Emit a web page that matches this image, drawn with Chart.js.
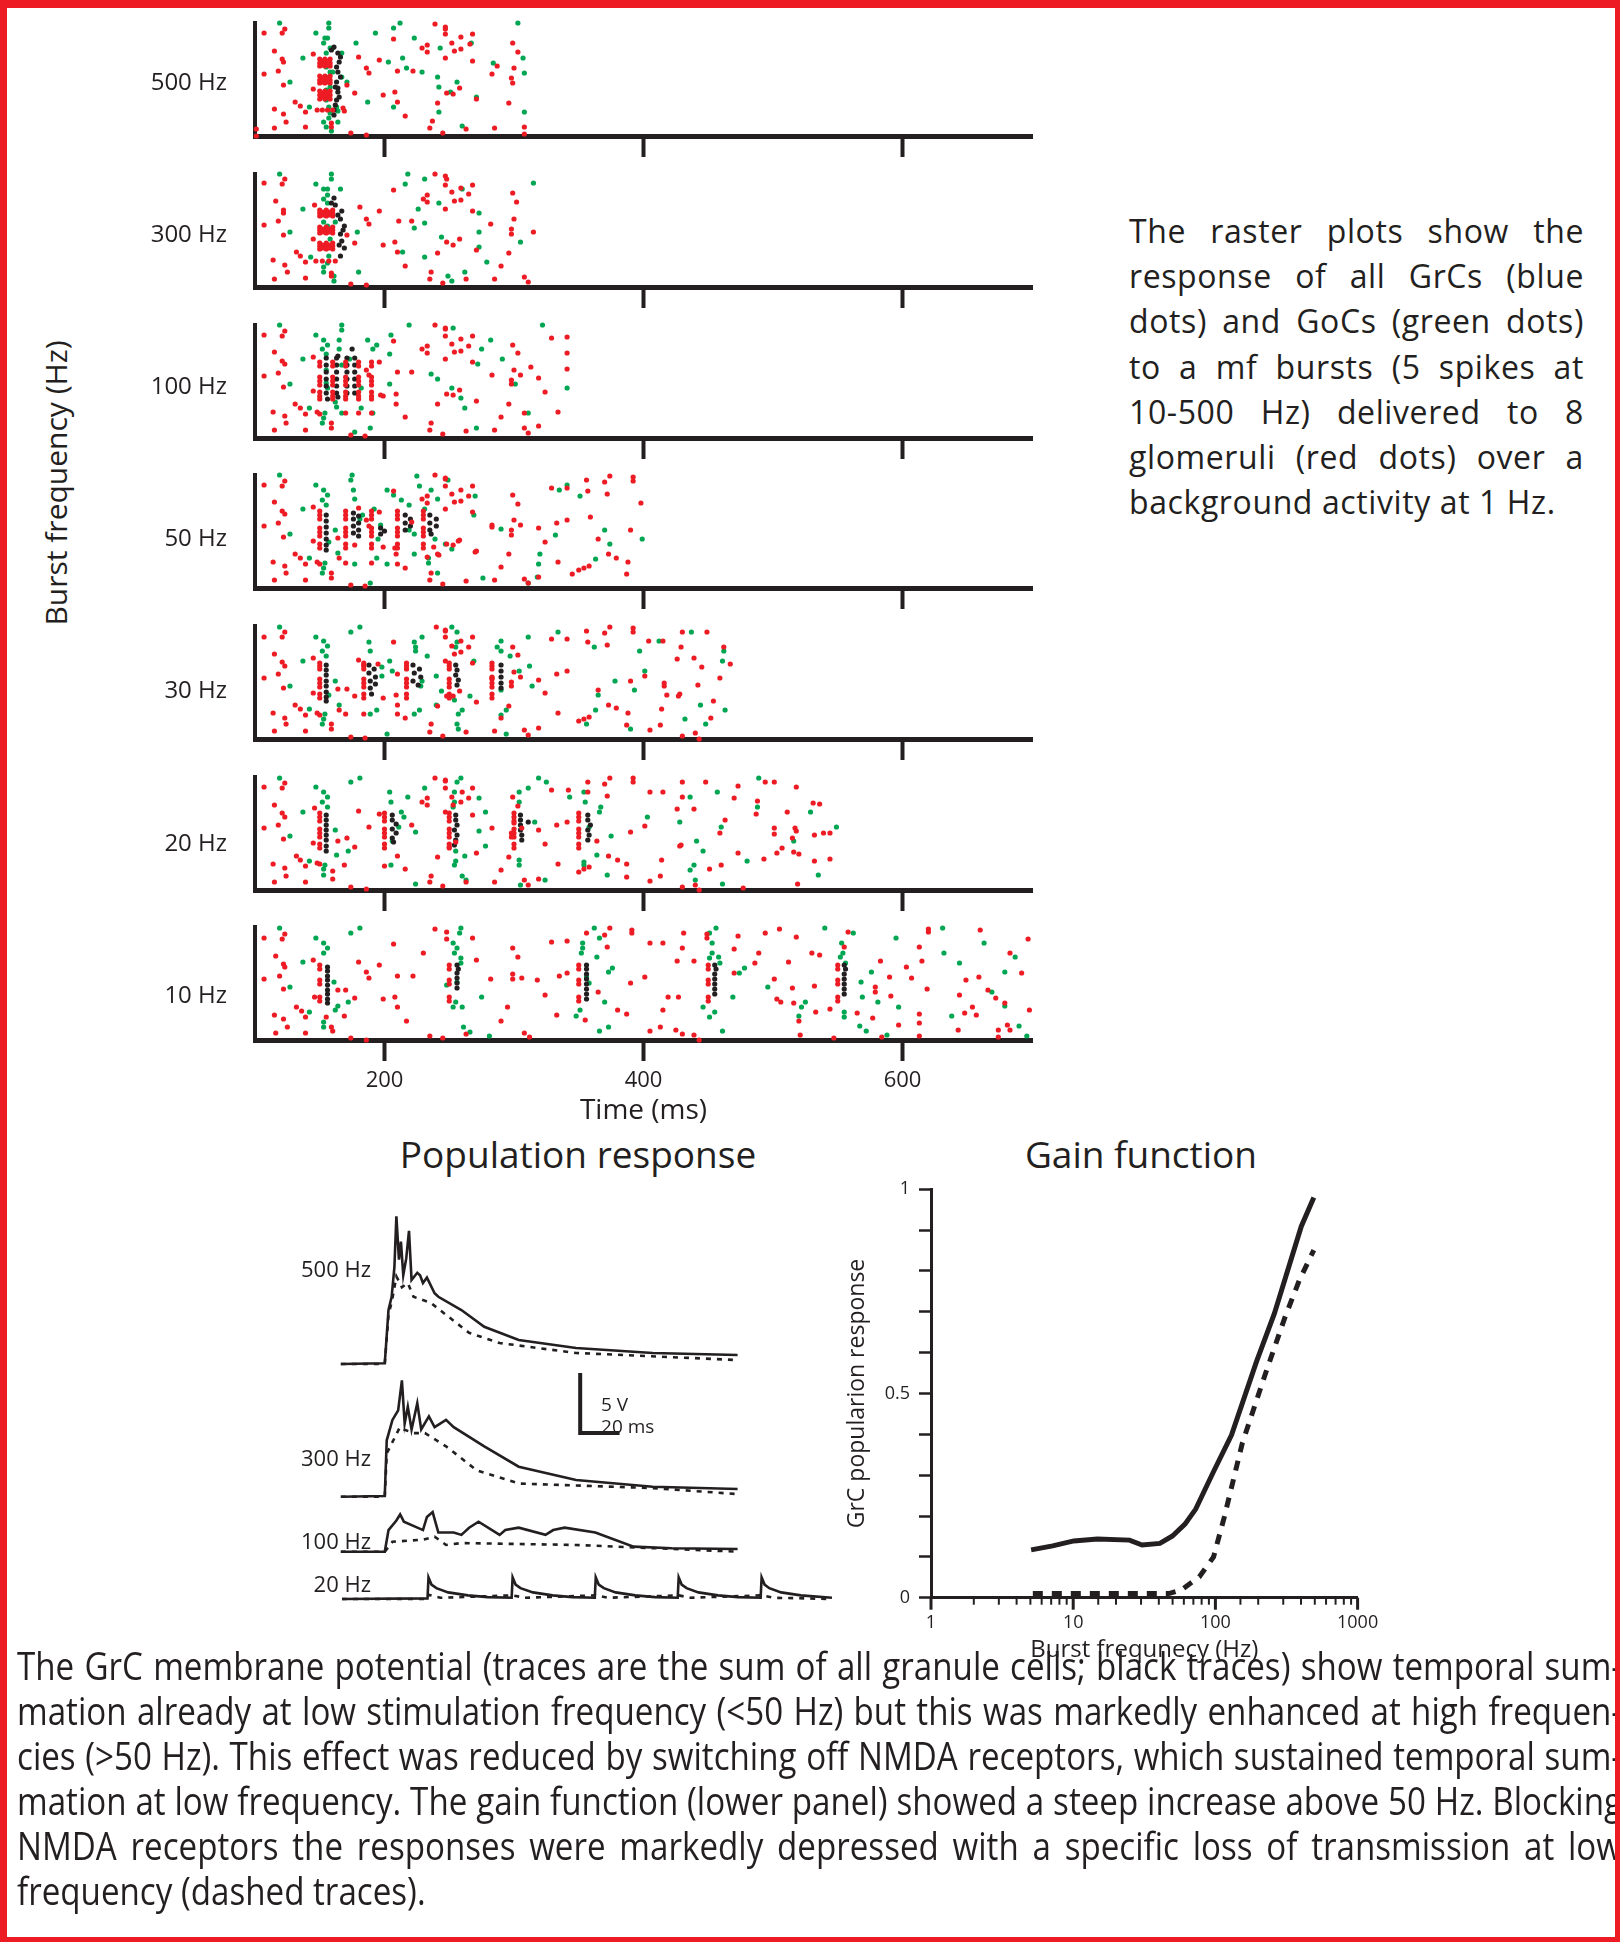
<!DOCTYPE html>
<html>
<head>
<meta charset="utf-8">
<script src="https://cdn.jsdelivr.net/npm/chart.js@4.4.1/dist/chart.umd.min.js"></script>
<style>
  html, body { margin: 0; padding: 0; background: #fff; }
  body { width: 1620px; height: 1942px; position: relative; overflow: hidden;
         font-family: "Open Sans", sans-serif; color: #231f20; }
  canvas { position: absolute; }
  .frame { position: absolute; background: #ed1c24; z-index: 5; }
  .centered { position: absolute; transform: translate(-50%, -50%); white-space: nowrap; line-height: 1; }
  #note { position: absolute; left: 1129px; top: 208px; width: 455px; font-size: 32px; line-height: 45.2px; letter-spacing: 0.6px; }
  #note div, #para div { text-align: justify; text-align-last: justify; }
  #note div.last, #para div.last { text-align-last: left; }
  #para { position: absolute; left: 17px; top: 1643px; font-size: 38px; line-height: 45px; transform-origin: 0 0; }
</style>
</head>
<body>
<div class="centered" style="left:56px; top:483px; font-size:30px; transform: translate(-50%,-50%) rotate(-90deg);">Burst frequency (Hz)</div>
<div class="centered" style="left:578px; top:1153px; font-size:37px;">Population response</div>
<div class="centered" style="left:1141px; top:1153px; font-size:37px;">Gain function</div>
<div id="note"></div>
<div id="para"></div>
<div class="frame" style="left:0; top:0; width:1620px; height:8px;"></div>
<div class="frame" style="left:0; top:0; width:7px; height:1942px;"></div>
<div class="frame" style="left:1615px; top:0; width:5px; height:1942px;"></div>
<div class="frame" style="left:0; top:1937px; width:1620px; height:5px;"></div>
<script>
// raster plots: [time ms, cell index]
const red500 = [[107,103],[101,7],[101,0],[115,85],[121,77],[122,74],[118,65],[107,62],[122,51],[121,103],[123,107],[115,27],[122,22],[124,14],[115,8],[131,34],[135,30],[139,24],[139,9],[145,47],[145,82],[159,13],[159,9],[168,28],[169,25],[171,51],[177,43],[174,3],[186,1],[180,79],[186,68],[188,63],[196,76],[199,41],[208,44],[210,34],[210,65],[216,20],[222,65],[207,97],[229,88],[233,91],[233,84],[239,112],[247,109],[247,107],[247,102],[252,93],[254,85],[259,87],[259,99],[268,102],[266,92],[268,75],[247,78],[271,37],[258,48],[253,42],[248,43],[241,33],[237,15],[235,8],[245,3],[263,7],[285,8],[283,62],[287,70],[298,58],[299,53],[300,68],[303,84],[299,93],[296,33],[308,9],[308,2],
  [150,77],[154,77],[158,77],[150,73],[154,73],[158,73],[150,70],[154,70],[158,70],[152,75],[156,75],[152,71],[156,71],
  [150,60],[154,60],[158,60],[150,56],[154,56],[158,56],[150,53],[154,53],[158,53],[152,58],[156,58],[152,54],[156,54],
  [150,45],[154,45],[158,45],[150,41],[154,41],[158,41],[150,37],[154,37],[158,37],[152,43],[156,43],[152,39],[156,39],
  [148,26],[152,26],[156,26],[160,26]];
const green500 = [[119,113],[157,113],[157,108],[147,103],[154,98],[156,98],[153,93],[158,88],[160,88],[167,83],[137,78],[127,54],[158,64],[158,49],[160,64],[167,59],[171,54],[142,29],[157,29],[163,29],[164,25],[153,14],[164,14],[159,5],[178,93],[193,103],[207,108],[212,113],[223,98],[214,78],[203,74],[217,68],[229,64],[241,59],[242,49],[256,54],[251,44],[187,34],[207,29],[242,24],[260,10],[271,39],[284,73],[307,78],[308,63],[308,24],[303,113],[267,93],[243,88],[155,83],[155,69],[155,36],[158,23],[157,18],[155,9],[155,59],[155,46]];
const black500 = [[161,89],[164,83],[165,74],[163,69],[164,64],[166,59],[163,54],[162,49],[164,44],[165,39],[163,36],[162,31],[161,26],[161,21],[159,86],[166,79],[164,48]];

const red300 = [[107,104],[121,103],[123,108],[116,86],[122,77],[122,74],[118,66],[107,62],[122,52],[114,27],[123,22],[125,15],[115,8],[132,35],[135,31],[139,25],[139,9],[145,48],[146,82],[159,14],[159,11],[171,52],[177,44],[181,80],[186,68],[188,63],[174,3],[186,2],[196,76],[199,42],[208,45],[210,35],[211,66],[216,21],[221,66],[207,97],[230,88],[233,92],[233,85],[239,113],[247,111],[248,108],[247,102],[252,95],[254,86],[259,87],[259,99],[268,102],[265,93],[268,76],[247,78],[271,37],[258,48],[253,42],[248,45],[241,34],[236,15],[235,8],[245,4],[263,8],[285,8],[282,63],[296,34],[290,21],[299,94],[302,85],[300,68],[298,58],[298,53],[315,55],[308,10],[311,5],
  [150,77],[155,77],[160,77],[150,74],[155,74],[160,74],[150,71],[155,71],[160,71],[152,75],[157,75],[152,72],[157,72],
  [150,60],[155,60],[160,60],[150,57],[155,57],[160,57],[150,54],[155,54],[160,54],[152,58],[157,58],[152,55],[157,55],
  [150,44],[155,44],[160,44],[150,41],[155,41],[160,41],[150,38],[155,38],[160,38],[152,42],[157,42],[152,39],[157,39],
  [147,26],[152,26],[157,26],[162,26]];
const green300 = [[119,113],[159,113],[159,108],[147,103],[153,98],[156,98],[166,98],[153,88],[156,92],[137,78],[127,55],[153,65],[162,65],[179,55],[143,30],[153,20],[153,15],[161,11],[161,6],[180,15],[218,113],[216,103],[231,108],[242,84],[226,78],[231,64],[223,59],[244,50],[214,35],[231,30],[249,11],[252,6],[262,15],[260,98],[273,74],[273,55],[273,40],[279,25],[305,45],[315,104],[156,84],[156,61],[158,48],[157,31],[156,24]];
const black300 = [[161,89],[162,82],[167,76],[166,68],[169,61],[166,53],[167,46],[169,39],[166,31],[159,84],[164,72],[168,57],[165,42]];

const red100 = [[107,103],[123,107],[121,102],[115,86],[121,77],[123,74],[118,65],[107,62],[122,51],[114,26],[123,22],[124,15],[115,8],[131,34],[135,30],[139,24],[139,8],[145,81],[145,47],[148,26],[150,24],[159,15],[159,10],[170,25],[180,25],[190,25],[174,3],[185,2],[196,76],[199,42],[207,97],[210,66],[209,44],[209,34],[216,21],[221,66],[229,89],[233,92],[233,85],[239,113],[247,110],[247,109],[247,102],[252,94],[254,86],[259,87],[259,99],[268,102],[265,92],[268,76],[247,79],[271,37],[258,48],[253,43],[248,44],[241,34],[236,15],[235,8],[245,4],[263,7],[285,8],[283,63],[296,34],[290,21],[299,93],[303,85],[300,68],[298,58],[298,54],[308,25],[311,5],[305,63],[313,71],[319,60],[324,46],[329,100],[341,101],[341,85],[341,69],[334,26],[319,12],[308,10],[197,43],[186,68],[188,63],
  [150,76],[150,72],[150,61],[150,57],[150,53],[150,46],[150,42],[150,39],
  [160,76],[160,72],[160,61],[160,57],[160,53],[160,46],[160,42],[160,39],
  [170,76],[170,72],[170,61],[170,57],[170,53],[170,46],[170,42],[170,39],
  [180,76],[180,72],[180,61],[180,57],[180,53],[180,46],[180,42],[180,39],
  [190,76],[190,72],[190,61],[190,57],[190,53],[190,46],[190,42],[190,39]];
const green100 = [[119,113],[167,113],[167,108],[147,103],[153,98],[156,93],[152,89],[155,84],[165,98],[165,89],[137,79],[127,54],[187,98],[194,93],[191,89],[205,103],[204,84],[204,54],[219,113],[236,64],[241,59],[252,50],[259,40],[262,30],[253,110],[272,74],[275,89],[282,98],[291,79],[301,54],[311,25],[322,113],[341,50],[271,10],[189,10],[177,6],[182,30],[191,25],[167,25],[154,25],[153,20],[152,15],[142,30],[162,36],[163,31],[156,50],[173,79],[182,50],[155,68],[155,55],[167,73]];
const black100 = [[175,89],[164,82],[155,80],[163,80],[171,80],[177,80],[155,73],[163,73],[171,73],[177,73],[155,66],[163,66],[171,66],[177,66],[155,59],[163,59],[171,59],[177,59],[155,52],[163,52],[171,52],[177,52],[155,45],[163,45],[171,45],[177,45],[156,39],[164,41]];

const red50 = [[107,103],[123,107],[121,102],[115,86],[121,77],[123,74],[118,65],[107,62],[122,51],[114,26],[123,22],[124,15],[115,8],[131,34],[135,30],[139,24],[139,8],[145,81],[145,47],[148,26],[150,24],[159,15],[159,10],[164,50],[165,30],[170,25],[177,43],[180,80],[186,68],[188,62],[190,25],[196,76],[199,41],[174,3],[185,2],[207,97],[209,34],[216,20],[221,66],[229,89],[233,92],[233,85],[239,113],[247,110],[247,109],[247,102],[252,94],[254,86],[259,87],[259,98],[268,102],[265,92],[268,76],[247,79],[271,37],[258,48],[253,43],[248,44],[241,34],[236,15],[235,8],[245,4],[263,7],[285,8],[283,63],[283,61],[296,34],[290,21],[299,93],[303,84],[300,68],[298,58],[298,53],[305,63],[308,9],[311,5],[319,60],[324,46],[329,100],[334,26],[319,11],[333,65],[341,68],[341,100],[345,14],[350,18],[354,20],[358,22],[356,108],[357,97],[359,71],[365,49],[370,106],[374,112],[372,94],[373,34],[379,30],[388,26],[387,14],[390,58],[392,111],[392,107],[398,85],[208,40],[210,24],[238,41],[242,33],[257,47],[270,36],[233,31],
  [150,77],[150,73],[150,69],[150,60],[150,56],[150,52],[150,44],[150,40],
  [170,77],[170,73],[170,69],[170,60],[170,56],[170,52],[170,44],[170,40],
  [190,77],[190,73],[190,69],[190,60],[190,56],[190,52],[190,44],[190,40],
  [210,77],[210,73],[210,69],[210,60],[210,56],[210,52],[210,44],[210,40],
  [230,77],[230,73],[230,69],[230,60],[230,56],[230,52],[230,44],[230,40]];
const green50 = [[119,113],[175,113],[174,108],[147,103],[153,98],[156,93],[152,88],[155,83],[176,98],[177,89],[137,79],[127,54],[162,58],[183,73],[181,69],[202,98],[207,93],[213,88],[219,83],[225,112],[227,102],[236,98],[241,89],[270,92],[269,73],[249,108],[231,79],[197,63],[195,49],[192,79],[219,58],[223,54],[239,49],[223,34],[234,30],[234,25],[247,44],[252,39],[241,15],[202,24],[194,30],[177,24],[164,35],[154,25],[153,20],[152,15],[142,30],[189,5],[276,10],[290,59],[311,5],[319,24],[320,34],[318,11],[332,53],[335,98],[341,103],[351,92],[363,29],[370,58],[374,44],[399,49],[157,46]];
const black50 = [[155,73],[155,67],[155,61],[155,55],[155,49],[155,43],[155,38],[176,75],[180,72],[176,69],[180,65],[176,62],[180,58],[176,55],[180,52],[197,60],[200,57],[197,54],[216,73],[220,69],[216,65],[220,62],[216,58],[235,73],[240,69],[235,65],[240,62],[235,58],[236,54]];

const red30 = [[107,102],[123,107],[121,102],[115,85],[121,77],[123,73],[118,65],[107,61],[122,51],[114,26],[123,21],[124,15],[115,8],[131,34],[135,30],[139,24],[139,8],[145,81],[145,46],[148,26],[150,24],[159,15],[159,10],[164,50],[165,29],[170,25],[171,50],[177,43],[180,79],[184,74],[184,25],[174,2],[185,1],[195,75],[199,41],[207,97],[210,65],[209,44],[210,34],[216,21],[210,25],[240,112],[247,109],[247,108],[247,102],[252,93],[254,85],[259,87],[259,98],[268,102],[265,92],[268,76],[247,78],[271,37],[258,48],[253,43],[248,43],[241,33],[236,15],[235,7],[245,3],[263,7],[285,8],[283,62],[283,61],[296,33],[290,21],[299,92],[303,84],[300,67],[298,57],[298,53],[305,62],[308,9],[311,4],[319,59],[324,46],[329,100],[334,26],[319,11],[333,65],[341,68],[341,100],[350,18],[354,20],[358,22],[356,108],[357,97],[365,49],[370,106],[374,112],[372,94],[373,34],[379,31],[388,26],[387,14],[390,58],[392,111],[392,107],[401,63],[404,98],[405,9],[413,14],[414,30],[415,98],[416,56],[416,53],[418,44],[426,80],[427,43],[428,45],[429,92],[430,107],[439,81],[442,54],[445,72],[449,107],[452,21],[454,38],[459,61],[462,92],[467,75],[430,3],[440,6],[443,0],
  [150,76],[150,73],[150,70],[150,60],[150,56],[150,52],[150,45],[150,41],
  [184,76],[184,73],[184,70],[184,60],[184,56],[184,52],[184,45],[184,41],
  [217,76],[217,73],[217,70],[217,60],[217,56],[217,52],[217,45],[217,41],
  [250,76],[250,73],[250,70],[250,60],[250,56],[250,52],[250,45],[250,41],
  [283,76],[283,73],[283,70],[283,60],[283,56],[283,52],[283,45],[283,41]];
const green30 = [[119,112],[181,112],[174,107],[147,102],[153,98],[156,93],[152,88],[155,83],[188,97],[189,88],[137,78],[127,53],[162,58],[165,34],[198,72],[198,63],[204,78],[206,68],[223,97],[224,92],[224,88],[229,102],[233,83],[240,63],[229,58],[228,53],[244,48],[252,112],[256,107],[256,97],[255,92],[269,78],[266,43],[254,39],[260,29],[257,25],[256,15],[257,10],[290,98],[287,92],[290,88],[297,83],[304,68],[312,73],[311,102],[314,53],[290,49],[290,24],[294,29],[294,5],[334,107],[362,92],[378,58],[365,44],[363,29],[356,15],[390,10],[397,88],[401,68],[393,49],[412,98],[437,107],[444,34],[432,20],[448,15],[461,78],[462,88],[463,29],[240,34],[227,29],[223,25],[202,5],[189,25],[194,29],[154,25],[153,20],[152,15],[142,30],[157,44]];
const black30 = [[155,74],[155,69],[155,64],[155,58],[155,53],[155,47],[155,42],[155,38],[188,74],[192,70],[188,66],[193,62],[189,58],[193,55],[189,51],[190,45],[222,74],[227,70],[223,66],[228,62],[222,58],[226,54],[255,74],[256,69],[255,64],[257,59],[256,54],[290,74],[290,68],[290,62],[290,56],[290,51]];

const red20 = [[107,103],[123,107],[121,102],[115,85],[121,77],[123,73],[118,65],[107,62],[122,51],[114,26],[123,22],[124,14],[115,8],[132,34],[135,30],[139,24],[139,8],[146,82],[145,47],[148,27],[150,26],[160,19],[160,11],[164,49],[169,25],[171,52],[177,43],[180,79],[188,63],[174,3],[186,1],[196,76],[200,24],[210,34],[216,21],[221,65],[229,88],[233,92],[233,85],[239,112],[247,110],[247,109],[247,102],[252,93],[253,85],[259,88],[260,98],[268,102],[265,92],[268,75],[247,78],[271,37],[255,48],[250,43],[241,33],[236,14],[235,8],[245,4],[263,8],[285,8],[283,62],[296,33],[290,20],[299,93],[303,84],[300,67],[298,57],[298,53],[306,62],[308,10],[311,5],[319,60],[324,46],[329,100],[334,26],[319,11],[333,65],[341,68],[342,100],[350,18],[354,21],[358,23],[357,108],[357,98],[364,49],[370,106],[374,112],[372,94],[373,34],[380,30],[387,26],[387,13],[390,58],[392,112],[392,108],[401,64],[405,98],[405,9],[413,14],[414,30],[415,98],[428,44],[429,45],[426,81],[430,93],[430,108],[439,81],[448,108],[451,21],[460,25],[463,70],[459,57],[470,92],[473,37],[473,104],[487,76],[488,89],[493,31],[494,108],[501,108],[501,62],[501,56],[503,37],[507,42],[511,78],[518,103],[515,52],[517,62],[518,59],[516,38],[520,36],[519,6],[531,87],[536,86],[532,29],[532,55],[539,57],[544,57],[544,31],[477,2],[440,5],[443,0],[430,3],
  [150,77],[150,73],[150,69],[150,61],[150,57],[150,53],[150,46],[150,42],
  [200,77],[200,73],[200,69],[200,61],[200,57],[200,53],[200,46],[200,42],
  [250,77],[250,73],[250,69],[250,61],[250,57],[250,53],[250,46],[250,42],
  [300,77],[300,73],[300,69],[300,61],[300,57],[300,53],[300,46],[300,42],
  [350,77],[350,73],[350,69],[350,61],[350,57],[350,53],[350,46],[350,42]];
const green20 = [[119,112],[181,112],[174,108],[147,103],[153,98],[156,93],[152,88],[156,83],[204,98],[205,88],[137,78],[127,54],[162,60],[172,39],[218,93],[213,78],[215,73],[231,102],[256,108],[259,112],[254,98],[254,88],[253,83],[273,92],[278,78],[273,59],[278,44],[224,58],[262,34],[255,39],[255,29],[254,25],[260,14],[263,10],[319,112],[325,108],[311,102],[304,98],[304,88],[343,93],[354,98],[355,88],[367,83],[366,78],[316,68],[358,63],[375,54],[364,35],[354,28],[354,25],[372,15],[304,30],[304,25],[305,5],[324,10],[224,6],[403,73],[428,68],[436,93],[441,49],[446,39],[439,25],[436,20],[440,10],[461,6],[457,98],[460,63],[480,29],[489,112],[488,83],[516,49],[529,78],[535,15],[549,63],[154,25],[153,21],[153,15],[142,29],[205,25],[206,49],[211,63],[163,35]];
const black20 = [[155,75],[155,70],[155,65],[155,60],[155,55],[155,50],[155,44],[155,39],[206,75],[206,70],[209,66],[206,61],[209,57],[206,52],[207,48],[255,75],[255,70],[256,65],[254,60],[256,55],[255,50],[254,45],[305,75],[305,70],[311,68],[305,65],[305,60],[306,55],[306,50],[357,75],[357,70],[359,65],[357,60],[358,55],[357,50]];

const red10 = [[107,102],[123,106],[121,101],[116,84],[122,76],[123,73],[107,61],[119,64],[122,51],[115,25],[122,21],[125,13],[116,7],[132,33],[136,29],[139,23],[139,7],[145,80],[146,43],[155,23],[159,13],[160,9],[164,50],[170,50],[177,42],[169,24],[174,2],[186,0],[180,78],[186,68],[188,62],[196,75],[199,41],[207,96],[208,43],[210,33],[210,64],[217,19],[222,64],[230,87],[239,111],[248,108],[248,101],[235,4],[245,2],[263,6],[268,102],[271,80],[282,61],[299,92],[303,83],[299,66],[299,61],[306,62],[295,33],[290,19],[308,7],[312,3],[318,60],[324,45],[329,98],[341,99],[335,64],[333,25],[341,67],[356,107],[370,105],[374,112],[372,93],[365,48],[355,20],[380,30],[387,26],[390,57],[391,110],[391,107],[401,63],[405,97],[415,97],[413,13],[405,9],[425,10],[419,43],[415,30],[427,43],[430,6],[439,5],[443,0],[426,79],[431,107],[430,92],[439,79],[449,106],[449,102],[470,91],[473,104],[470,67],[486,77],[489,87],[494,107],[505,111],[501,61],[503,41],[506,38],[516,37],[518,103],[512,78],[515,52],[520,19],[521,5],[530,87],[536,85],[532,54],[533,28],[544,31],[547,2],[555,93],[558,108],[565,27],[577,22],[579,53],[579,48],[583,79],[584,3],[590,63],[591,44],[597,15],[603,73],[607,62],[613,93],[615,79],[613,26],[613,17],[613,4],[619,51],[620,111],[620,108],[644,45],[643,10],[649,60],[648,27],[657,25],[660,110],[659,63],[672,42],[674,10],[683,87],[681,15],[692,67],[697,101],[698,30],[674,3],[683,10],[654,33],[666,50],[679,37],
  [150,75],[150,71],[150,60],[150,56],[150,43],[150,39],
  [250,75],[250,71],[250,60],[250,56],[250,43],[250,39],
  [350,75],[350,71],[350,60],[350,56],[350,43],[350,39],
  [450,75],[450,71],[450,60],[450,56],[450,43],[450,39],
  [550,75],[550,71],[550,60],[550,56],[550,43],[550,39]];
const green10 = [[119,112],[147,102],[153,97],[156,92],[153,87],[137,78],[127,53],[161,58],[164,34],[172,38],[142,28],[153,18],[153,13],[162,30],[174,107],[181,112],[259,112],[258,107],[253,97],[256,92],[254,87],[259,82],[259,77],[248,55],[256,58],[255,38],[253,33],[260,33],[261,13],[266,8],[281,4],[275,43],[362,112],[366,102],[353,97],[353,92],[352,87],[364,83],[373,68],[376,72],[356,63],[358,57],[370,38],[351,30],[348,24],[373,13],[366,9],[456,112],[451,107],[453,97],[453,87],[451,82],[458,83],[459,77],[446,33],[455,28],[451,23],[461,9],[469,43],[474,67],[478,72],[540,112],[562,107],[553,97],[554,87],[552,83],[556,77],[568,58],[576,68],[569,43],[581,38],[555,28],[555,23],[567,14],[572,9],[597,33],[588,5],[595,102],[631,112],[663,97],[632,87],[644,77],[638,24],[669,48],[679,34],[679,68],[687,83],[690,14],[696,4],[496,53],[522,33],[525,38],[520,24]];
const black10 = [[156,73],[156,69],[156,64],[156,60],[156,55],[156,50],[156,46],[156,41],[156,37],[256,75],[257,71],[256,67],[256,62],[256,57],[256,52],[356,75],[356,71],[356,66],[356,61],[356,56],[356,51],[356,46],[356,41],[455,75],[456,71],[455,66],[455,61],[455,56],[455,51],[455,46],[555,75],[556,71],[555,66],[555,61],[555,56],[555,51],[555,46]];

const burstLabels = ['500 Hz', '300 Hz', '100 Hz', '50 Hz', '30 Hz', '20 Hz', '10 Hz'];
const timeTicks = [200, 400, 600];

// population response traces: [time ms, volts above the trace's own baseline]
const popLabels = ['500 Hz', '300 Hz', '100 Hz', '20 Hz'];
const trace500 = [[5.5,0],[27.8,0.06],[29.7,4.5],[31.3,5.6],[32.7,8.1],[33.7,12.3],[35,8.7],[36,10.2],[37.2,7.4],[38.7,8.8],[40.1,11.1],[41.4,7],[44.3,7.6],[45.7,7.4],[47.2,6.75],[49.2,7.2],[53.1,5.9],[55,5.6],[66.7,4.5],[78.3,3.1],[95.8,2],[124.9,1.33],[163.8,0.92],[206.9,0.75]];
const nmda500 = [[5.5,0],[27.8,0],[29.7,4.1],[31.5,5.3],[33.7,7.3],[36.5,6.4],[39.5,6.75],[42.4,5.6],[51.1,5.1],[70.6,2.6],[86.1,1.75],[124.9,0.92],[206.9,0.33]];
const trace300 = [[5.5,0],[27.8,0.06],[28.8,4.7],[31.7,6.4],[34.6,7.2],[36.5,9.7],[37.9,6.1],[39.5,7.5],[41.4,5.6],[44.3,7.8],[46.3,5.6],[50.2,6.7],[53.1,5.8],[58.9,6.4],[62.8,5.8],[78.3,4.2],[95.8,2.5],[124.9,1.4],[163.8,0.83],[206.9,0.64]];
const nmda300 = [[5.5,0],[27.8,0],[28.8,3.6],[35.5,5.8],[37.6,5.6],[42.4,5.3],[48.2,5.3],[58.9,4.2],[74.5,2.2],[95.8,1.1],[163.8,0.72],[206.9,0.22]];
const trace100 = [[5.5,0],[27.8,0],[29.7,1.8],[33.7,2.6],[35.6,3.1],[37.5,2.5],[47.2,1.8],[49.2,2.9],[52.1,3.3],[55,1.6],[62.8,1.6],[66.7,1.4],[70.6,2],[75.4,2.5],[86.1,1.4],[89,1.8],[95.8,2],[109.4,1.4],[113.3,1.8],[119.1,2],[134.7,1.6],[154.1,0.42],[173.5,0.28],[206.9,0.22]];
const nmda100 = [[5.5,0],[27.8,0],[31.7,0.83],[47.2,1],[53.1,1.25],[58.9,0.56],[66.7,0.72],[124.9,0.56],[206.9,0]];
const trace20 = [[6.1,0],[49.5,0.05],[50,1.8],[51.5,1.2],[54,0.9],[60,0.55],[70,0.3],[80,0.15],[92.2,0.1],[92.7,1.8],[94.2,1.2],[96.7,0.9],[103,0.55],[113,0.3],[123,0.15],[134.4,0.1],[134.9,1.8],[136.4,1.2],[139,0.9],[145,0.55],[155,0.3],[165,0.15],[176.5,0.1],[177,1.8],[178.5,1.2],[181,0.9],[187,0.55],[197,0.3],[207,0.15],[218.6,0.1],[219.1,1.8],[220.6,1.2],[223,0.9],[229,0.55],[239,0.3],[254.8,0.1]];
const nmda20 = [[6.1,0],[49.5,0],[50,0.35],[56,0.1],[92.7,0.3],[99,0.1],[134.9,0.3],[141,0.1],[177,0.3],[183,0.1],[219.1,0.3],[225,0.1],[254.8,0]];

// gain function
const gainFreq = [5.06, 7.17, 10.1, 14.8, 24.9, 30.5, 40.7, 49.9, 61.1, 72.7, 97.1, 129.8, 194.5, 260, 401.6, 492];
const gainCtrl = [0.117, 0.127, 0.139, 0.144, 0.141, 0.129, 0.133, 0.151, 0.18, 0.217, 0.309, 0.398, 0.578, 0.696, 0.909, 0.98];
const nmdaFreq = [5.2, 47, 57.7, 77, 97.1, 115.6, 154.5, 225, 309.5, 390, 492];
const nmdaOff = [0.01, 0.01, 0.019, 0.051, 0.1, 0.198, 0.378, 0.549, 0.688, 0.778, 0.851];

const noteLines = ['The raster plots show the', 'response of all GrCs (blue', 'dots) and GoCs (green dots)', 'to a mf bursts (5 spikes at', '10-500 Hz) delivered to 8', 'glomeruli (red dots) over a', 'background activity at 1 Hz.'];
const paraLines = [
  'The GrC membrane potential (traces are the sum of all granule cells; black traces) show temporal sum-',
  'mation already at low stimulation frequency (<50 Hz) but this was markedly enhanced at high frequen-',
  'cies (>50 Hz). This effect was reduced by switching off NMDA receptors, which sustained temporal sum-',
  'mation at low frequency. The gain function (lower panel) showed a steep increase above 50 Hz. Blocking',
  'NMDA receptors the responses were markedly depressed with a specific loss of transmission at low',
  'frequency (dashed traces).'
];

const ink = '#231f20';
const redDot = '#ed1c24';
const greenDot = '#00a651';
Chart.defaults.font.family = '"Open Sans", sans-serif';
Chart.defaults.color = ink;
Chart.defaults.animation = false;
Chart.defaults.events = [];
Chart.defaults.plugins.legend.display = false;
Chart.defaults.plugins.tooltip.enabled = false;

function addCanvas(left, top, w, h) {
  const c = document.createElement('canvas');
  c.width = w; c.height = h;
  c.style.left = left + 'px'; c.style.top = top + 'px';
  document.body.insertBefore(c, document.getElementById('note'));
  return c;
}

function dots(pts, color, order) {
  return { data: pts.map(p => ({ x: p[0], y: p[1] })), backgroundColor: color, borderWidth: 0,
           pointRadius: 2.6, order: order, clip: false };
}

const rasters = [
  [red500, green500, black500], [red300, green300, black300], [red100, green100, black100],
  [red50, green50, black50], [red30, green30, black30], [red20, green20, black20], [red10, green10, black10]
];
const panelBottoms = [136, 287, 438, 588, 739, 890, 1040];
const labelRow = [53, 52, 50.5, 49, 48, 45.5, 43.5];

rasters.forEach((r, i) => {
  const last = i === rasters.length - 1;
  const axisH = last ? 91 : 30;
  const cv = addCanvas(140, panelBottoms[i] - 123, 910, 123 + axisH);
  new Chart(cv, {
    type: 'scatter',
    data: { datasets: [dots(r[1], greenDot, 2), dots(r[2], ink, 1), dots(r[0], redDot, 0)] },
    options: {
      responsive: false,
      layout: { padding: { left: 0, right: 18, top: 10, bottom: 0 } },
      scales: {
        x: {
          type: 'linear', min: 100, max: 700,
          afterBuildTicks: s => { s.ticks = timeTicks.map(v => ({ value: v })); },
          afterFit: s => { s.height = axisH; s.paddingLeft = 0; s.paddingRight = 0; },
          border: { width: 5, color: ink },
          grid: { drawOnChartArea: false, drawTicks: true, tickLength: 21, tickWidth: 4, tickColor: ink, color: ink },
          ticks: { display: last, padding: 7, maxRotation: 0, font: { size: 22 }, color: ink },
          title: { display: last, text: 'Time (ms)', font: { size: 28 }, color: ink, padding: { top: 0, bottom: 3 } }
        },
        y: {
          min: 0, max: 113,
          afterBuildTicks: s => { s.ticks = [{ value: labelRow[i] }]; },
          // the single label sits mid-height, so no label padding is needed above or below
          afterFit: s => { s.width = 115; s.paddingTop = 0; s.paddingBottom = 0; },
          border: { width: 4, color: ink },
          grid: { display: false, drawTicks: false },
          ticks: { padding: 28, font: { size: 24 }, color: ink, callback: () => burstLabels[i] }
        }
      }
    }
  });
});

// population response
const popBaseline = [20.5, 9.44, 4.86, 0.92];
const popLabelAt = [[20.8, 28.3], [20.8, 12.5], [20.8, 5.6], [20.8, 2.0]];
const scaleBar = [[127, 19.75], [127, 14.75], [147, 14.75]];
const scaleBarText = [['5 V', 137.6, 17.0], ['20 ms', 137.6, 15.2]];

function trace(pts, base, dashed) {
  return { data: pts.map(p => ({ x: p[0], y: p[1] + base })), borderColor: ink, borderWidth: 2.6,
           borderDash: dashed ? [5, 6] : [], pointRadius: 0, tension: 0, fill: false, clip: false };
}
const popText = {
  id: 'popText',
  afterDatasetsDraw(chart) {
    const { ctx, scales: { x, y } } = chart;
    ctx.save();
    ctx.fillStyle = ink;
    ctx.textBaseline = 'middle';
    ctx.textAlign = 'right';
    ctx.font = '22px "Open Sans"';
    popLabels.forEach((t, i) => ctx.fillText(t, x.getPixelForValue(popLabelAt[i][0]), y.getPixelForValue(popLabelAt[i][1])));
    ctx.textAlign = 'left';
    ctx.font = '19px "Open Sans"';
    scaleBarText.forEach(b => ctx.fillText(b[0], x.getPixelForValue(b[1]), y.getPixelForValue(b[2])));
    ctx.restore();
  }
};
const traces = [[trace500, nmda500], [trace300, nmda300], [trace100, nmda100], [trace20, nmda20]];
const popSets = [];
traces.forEach((t, i) => { popSets.push(trace(t[0], popBaseline[i], false)); popSets.push(trace(t[1], popBaseline[i], true)); });
popSets.push({ data: scaleBar.map(p => ({ x: p[0], y: p[1] })), borderColor: ink, borderWidth: 4, pointRadius: 0,
               borderJoinStyle: 'miter', clip: false });
new Chart(addCanvas(270, 1190, 590, 430), {
  type: 'line',
  data: { datasets: popSets },
  options: {
    responsive: false,
    layout: { padding: { left: 60, right: 10, top: 0, bottom: 10 } },
    scales: {
      x: { type: 'linear', min: 0, max: 263.96, display: false },
      y: { min: 0, max: 35, display: false }
    }
  },
  plugins: [popText]
});

// gain function
const logTicks = {
  id: 'logTicks',
  afterDraw(chart) {
    const x = chart.scales.x, ctx = chart.ctx, y0 = chart.chartArea.bottom;
    ctx.save();
    ctx.strokeStyle = ink;
    x.ticks.forEach(t => {
      const major = Math.abs(Math.log10(t.value) - Math.round(Math.log10(t.value))) < 1e-6;
      const px = x.getPixelForValue(t.value);
      ctx.lineWidth = major ? 3 : 2;
      ctx.beginPath();
      ctx.moveTo(px, y0);
      ctx.lineTo(px, y0 + (major ? 12 : 7));
      ctx.stroke();
    });
    ctx.restore();
  }
};
new Chart(addCanvas(800, 1160, 600, 510), {
  type: 'line',
  data: {
    datasets: [
      { data: gainFreq.map((f, i) => ({ x: f, y: gainCtrl[i] })), borderColor: ink, borderWidth: 5, pointRadius: 0, tension: 0, clip: false },
      { data: nmdaFreq.map((f, i) => ({ x: f, y: nmdaOff[i] })), borderColor: ink, borderWidth: 5, borderDash: [10, 9], pointRadius: 0, tension: 0, clip: false }
    ]
  },
  options: {
    responsive: false,
    layout: { padding: { left: 0, right: 42.4, top: 29.3, bottom: 0 } },
    scales: {
      x: {
        type: 'logarithmic', min: 1, max: 1000,
        afterFit: s => { s.height = 72.3; },
        border: { width: 3, color: ink },
        grid: { display: false, drawTicks: false },
        ticks: { padding: 14.5, autoSkip: false, maxRotation: 0, font: { size: 18 }, color: ink,
                 callback: v => (Math.abs(Math.log10(v) - Math.round(Math.log10(v))) < 1e-6 ? String(v) : '') },
        title: { display: true, text: 'Burst frequnecy (Hz)', font: { size: 24 }, color: ink, padding: { top: 0, bottom: 5.6 } }
      },
      y: {
        min: 0, max: 1,
        afterFit: s => { s.width = 131; },
        border: { width: 3, color: ink },
        grid: { drawOnChartArea: false, drawTicks: true, tickLength: 12, tickWidth: 2.5, tickColor: ink },
        ticks: { stepSize: 0.1, padding: 9, font: { size: 18 }, color: ink,
                 callback: v => { const r = Math.round(v * 10) / 10; return r === 0 ? '0' : r === 0.5 ? '0.5' : r === 1 ? '1' : ''; } },
        title: { display: true, text: 'GrC popularion response', font: { size: 23 }, color: ink, padding: { top: 43.8, bottom: 0 } }
      }
    }
  },
  plugins: [logTicks]
});

// text blocks
const note = document.getElementById('note');
noteLines.forEach((t, i) => {
  const d = document.createElement('div');
  d.textContent = t;
  if (i === noteLines.length - 1) d.className = 'last';
  note.appendChild(d);
});
const para = document.getElementById('para');
const probe = document.createElement('span');
probe.style.cssText = 'position:absolute;visibility:hidden;white-space:nowrap;font-size:38px;font-family:"Open Sans"';
document.body.appendChild(probe);
let widest = 0;
paraLines.forEach(t => { probe.textContent = t; widest = Math.max(widest, probe.offsetWidth); });
probe.remove();
const paraW = widest + 4;
para.style.width = paraW + 'px';
para.style.transform = 'scaleX(' + (1605 / paraW) + ')';
paraLines.forEach((t, i) => {
  const d = document.createElement('div');
  d.textContent = t;
  if (i === paraLines.length - 1) d.className = 'last';
  para.appendChild(d);
});
</script>
</body>
</html>
